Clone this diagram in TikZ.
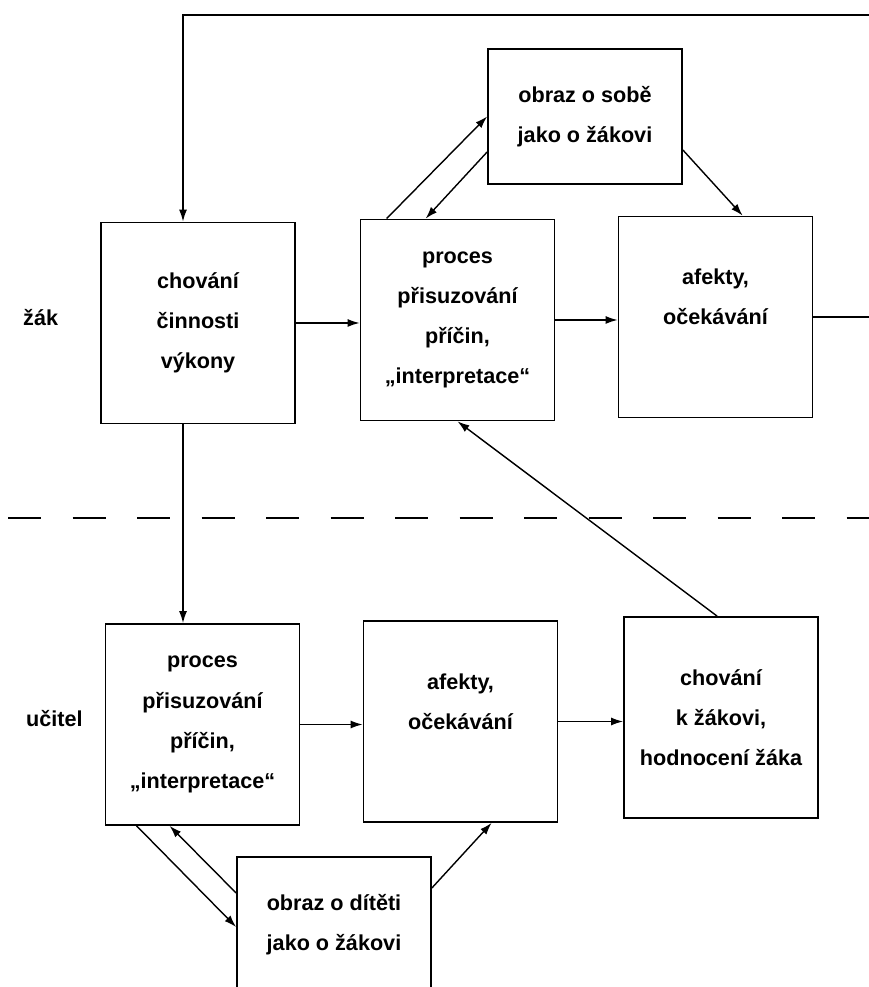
\documentclass[tikz,border=0pt]{standalone}
\usepackage{fontspec}
\setmainfont{Liberation Sans}
\usepackage{tikz}
\usetikzlibrary{arrows}
\usetikzlibrary{arrows.meta}

\begin{document}
\begin{tikzpicture}[
    box/.style = {draw, line width = 1pt, minimum width = 3.88cm, minimum height = 4.02cm,
        inner sep = 0pt, align = center, font = \fontsize{12.3}{22.8}\selectfont\bfseries},
    smallbox/.style = {box, minimum height = 2.7cm},
    side/.style = {anchor = west, font = \fontsize{12.3}{14}\selectfont\bfseries},
    arr/.style = {-{Latex[length = 2.4mm, width = 1.6mm]}, line width = 0.8pt}]
        \path[use as bounding box, clip] (0, 0) rectangle (17.38, 19.74);

        % zak
        \node[box] (chovani) at (3.96, 13.28) {chování\\činnosti\\výkony};
        \node[box] (procesZ) at (9.15, 13.34) {proces\\přisuzování\\příčin,\\„interpretace“};
        \node[box] (afektyZ) at (14.31, 13.40) {afekty,\\očekávání\\\mbox{}};
        \node[smallbox] (obrazZ) at (11.70, 17.41) {obraz o sobě\\jako o žákovi};
        \node[side] (zak) at (0.34, 13.38) {žák};

        % ucitel
        \node[box] (procesU) at (4.05, 5.25) {proces\\přisuzování\\příčin,\\„interpretace“};
        \node[box] (afektyU) at (9.21, 5.31) {afekty,\\očekávání\\\mbox{}};
        \node[box] (chovaniU) at (14.42, 5.39) {chování\\k žákovi,\\hodnocení žáka};
        \node[smallbox] (obrazU) at (6.68, 1.25) {obraz o dítěti\\jako o žákovi};
        \node[side] (ucitel) at (0.40, 5.36) {učitel};

        \coordinate (loopL) at (3.66, 19.44);
        \coordinate (loopR) at (17.6, 19.44);
        \coordinate (dashL) at (0.16, 9.38);
        \coordinate (dashR) at (17.6, 9.38);

        \draw[line width = 1pt, dash pattern = on 0.66cm off 0.63cm] (dashL) -- (dashR);

        \draw[arr] (afektyZ.east) -- (afektyZ.east -| loopR) -- (loopR) -- (loopL)
            -- (loopL |- chovani.north);
        \draw[arr] (chovani.east) -- (chovani.east -| procesZ.west);
        \draw[arr] (procesZ.east) -- (procesZ.east -| afektyZ.west);
        \draw[arr] ([xshift = 0.54cm]procesZ.north west) -- (obrazZ.west);
        \draw[arr] ([yshift = -0.71cm]obrazZ.west) -- ([xshift = 1.32cm]procesZ.north west);
        \draw[arr] ([yshift = -0.67cm]obrazZ.east) -- ([xshift = 2.5cm]afektyZ.north west);
        \draw[arr] ([xshift = 1.88cm]chovaniU.north west) -- (procesZ.south);

        \draw[arr] (loopL |- chovani.south) -- (loopL |- procesU.north);
        \draw[arr] (procesU.east) -- (procesU.east -| afektyU.west);
        \draw[arr] (afektyU.east) -- (afektyU.east -| chovaniU.west);
        \draw[arr] ([xshift = 0.64cm]procesU.south west) -- ([yshift = -0.05cm]obrazU.west);
        \draw[arr] ([yshift = 0.63cm]obrazU.west) -- ([xshift = 1.3cm]procesU.south west);
        \draw[arr] ([yshift = 0.73cm]obrazU.east) -- ([xshift = 2.58cm]afektyU.south west);
\end{tikzpicture}
\end{document}
